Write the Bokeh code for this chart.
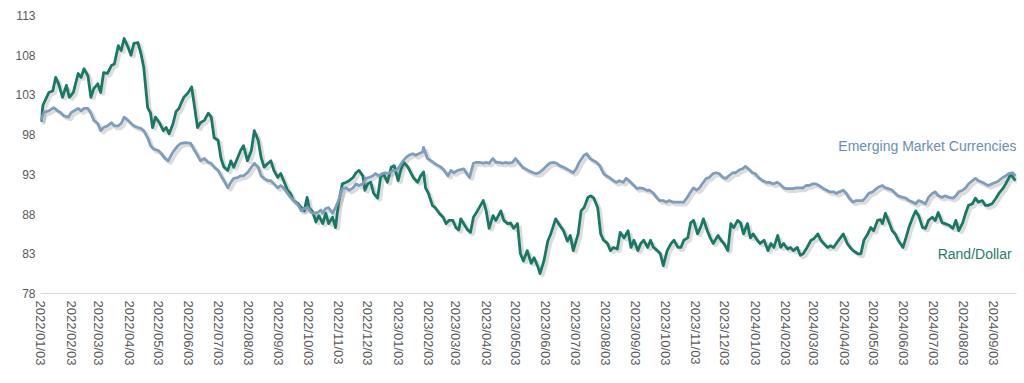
import pandas as pd
from bokeh.plotting import figure
from bokeh.models import FixedTicker, Range1d, Label
from bokeh.embed import file_html
from bokeh.resources import INLINE

start_date = "2022-01-03"

tick_labels = [
    "2022/01/03", "2022/02/03", "2022/03/03", "2022/04/03", "2022/05/03", "2022/06/03",
    "2022/07/03", "2022/08/03", "2022/09/03", "2022/10/03", "2022/11/03", "2022/12/03",
    "2023/01/03", "2023/02/03", "2023/03/03", "2023/04/03", "2023/05/03", "2023/06/03",
    "2023/07/03", "2023/08/03", "2023/09/03", "2023/10/03", "2023/11/03", "2023/12/03",
    "2024/01/03", "2024/02/03", "2024/03/03", "2024/04/03", "2024/05/03", "2024/06/03",
    "2024/07/03", "2024/08/03", "2024/09/03",
]
y_ticks = [78, 83, 88, 93, 98, 103, 108, 113]

# Rand/Dollar: days since 2022-01-03 and index value
rand_day = [
    0, 2, 8, 12, 15, 18, 22, 26, 29, 33,
    38, 41, 44, 48, 51, 54, 58, 61, 64, 68,
    72, 75, 79, 82, 85, 89, 92, 95, 99, 102,
    105, 109, 112, 114, 117, 121, 125, 128, 131, 135,
    138, 141, 143, 146, 150, 154, 156, 160, 163, 167,
    171, 174, 177, 181, 184, 187, 191, 194, 197, 201,
    204, 207, 211, 215, 218, 222, 225, 228, 232, 235,
    238, 242, 245, 248, 252, 255, 258, 263, 266, 269,
    272, 274, 278, 281, 284, 288, 291, 294, 298, 301,
    304, 308, 312, 315, 319, 322, 325, 329, 331, 334,
    337, 340, 344, 347, 350, 354, 358, 361, 365, 368,
    371, 375, 378, 381, 385, 388, 391, 393, 396, 400,
    403, 407, 411, 414, 417, 421, 424, 427, 429, 436,
    439, 442, 446, 452, 455, 458, 462, 465, 470, 473,
    477, 480, 483, 487, 490, 493, 497, 501, 504, 508,
    510, 514, 518, 521, 526, 529, 534, 538, 541, 544,
    549, 552, 555, 559, 562, 565, 569, 572, 575, 579,
    582, 585, 589, 592, 596, 600, 603, 606, 610, 613,
    616, 620, 623, 626, 630, 633, 636, 640, 644, 647,
    651, 654, 657, 661, 664, 667, 671, 674, 677, 681,
    684, 687, 692, 695, 698, 702, 705, 708, 712, 715,
    718, 722, 725, 728, 732, 735, 739, 743, 746, 749,
    753, 756, 759, 763, 766, 769, 773, 776, 779, 783,
    787, 790, 794, 797, 800, 804, 807, 810, 814, 817,
    820, 824, 827, 830, 835, 838, 841, 845, 848, 851,
    855, 858, 860, 863, 866, 870, 873, 876, 881, 884,
    887, 891, 894, 897, 901, 904, 907, 911, 914, 917,
    921, 924, 928, 932, 935, 938, 942, 945, 948, 952,
    955, 958, 962, 965, 968, 972, 976, 979, 983, 986,
    989, 991, 994, 996,
]
rand_val = [
    99.6, 101.7, 103.3, 103.5, 105.2, 104.4, 102.7, 104.2, 102.7, 103.3,
    105.7, 105.2, 106.3, 105.4, 102.7, 103.8, 104.4, 103.3, 105.8, 105.7,
    106.7, 106.9, 109.2, 108.6, 110.1, 109.0, 108.0, 109.5, 109.6, 108.3,
    106.5, 101.4, 100.7, 98.9, 100.2, 99.5, 98.5, 98.9, 98.1, 99.4,
    100.9, 101.3, 101.9, 102.7, 103.2, 104.0, 102.3, 98.9, 99.5, 99.8,
    100.7, 100.2, 97.6, 97.3, 95.0, 93.9, 93.5, 94.7, 93.9, 95.1,
    96.0, 96.6, 94.7, 96.0, 98.5, 97.3, 95.1, 93.9, 94.4, 94.7,
    93.5, 92.6, 93.1, 92.2, 91.0, 90.6, 89.7, 89.3, 88.8, 88.4,
    90.1, 88.8, 88.2, 87.0, 87.8, 86.8, 88.1, 86.8, 87.6, 86.3,
    89.3, 91.8, 92.0, 92.2, 92.6, 93.2, 93.5, 92.8, 91.0, 91.8,
    92.0, 90.6, 90.0, 92.6, 93.1, 92.0, 93.9, 94.1, 92.2, 93.7,
    94.5, 93.9, 93.2, 92.5, 92.0, 92.8, 93.3, 91.3, 90.6, 89.1,
    88.8, 88.1, 87.6, 86.8, 87.2, 87.2, 86.3, 86.0, 87.4, 86.0,
    85.7, 87.6, 88.4, 89.7, 88.4, 86.2, 87.8, 87.2, 88.4, 87.2,
    86.8, 86.9, 86.2, 86.8, 83.0, 82.1, 83.4, 81.8, 82.5, 81.3,
    80.5, 82.1, 84.6, 85.5, 87.4, 86.8, 85.9, 84.6, 85.3, 83.4,
    85.5, 88.4, 88.8, 90.1, 90.3, 90.0, 88.8, 85.5, 84.7, 84.3,
    83.4, 83.8, 83.6, 85.7, 85.0, 85.9, 83.8, 84.7, 83.4, 84.3,
    84.7, 83.8, 84.7, 83.8, 83.4, 83.0, 81.5, 83.4, 84.3, 84.7,
    83.8, 83.8, 84.7, 85.0, 86.9, 87.2, 85.5, 86.3, 87.4, 85.9,
    85.0, 84.3, 85.3, 84.7, 84.3, 83.4, 86.8, 86.3, 87.2, 86.9,
    85.5, 86.8, 85.0, 85.5, 84.7, 84.3, 84.7, 83.4, 84.3, 83.8,
    85.3, 83.8, 84.3, 83.6, 83.8, 83.4, 83.8, 82.8, 83.0, 83.8,
    84.7, 84.9, 85.5, 84.7, 84.3, 83.8, 84.0, 83.8, 84.5, 85.0,
    85.5, 84.3, 83.8, 83.4, 83.0, 83.0, 84.7, 85.5, 86.3, 85.9,
    87.2, 87.3, 86.8, 88.1, 87.2, 85.9, 85.5, 84.7, 83.8, 85.0,
    86.3, 87.6, 88.4, 87.8, 86.3, 86.2, 87.2, 87.6, 87.2, 88.2,
    86.9, 86.8, 86.6, 86.2, 87.2, 85.9, 86.9, 88.1, 89.1, 89.3,
    90.0, 89.5, 89.7, 89.1, 89.1, 89.3, 90.0, 90.6, 91.2, 91.8,
    92.5, 93.1, 92.5, 92.2,
]

# Emerging Market Currencies: days since 2022-01-03 and index value
em_day = [
    0, 3, 8, 13, 17, 20, 23, 28, 31, 34,
    38, 41, 44, 48, 51, 54, 58, 61, 64, 68,
    72, 75, 79, 82, 85, 89, 92, 95, 99, 102,
    105, 109, 112, 115, 120, 123, 126, 130, 133, 136,
    140, 143, 148, 153, 156, 160, 163, 167, 171, 174,
    177, 181, 184, 187, 191, 194, 197, 201, 204, 207,
    211, 215, 218, 222, 225, 228, 232, 235, 238, 242,
    245, 248, 252, 255, 258, 263, 266, 269, 273, 276,
    279, 283, 286, 288, 291, 294, 298, 301, 304, 308,
    312, 315, 319, 322, 325, 329, 332, 335, 339, 342,
    345, 349, 352, 355, 360, 363, 366, 370, 373, 376,
    380, 383, 386, 390, 391, 395, 399, 402, 406, 409,
    412, 416, 419, 422, 426, 432, 435, 438, 442, 445,
    448, 452, 455, 458, 462, 465, 468, 472, 475, 478,
    482, 485, 488, 492, 495, 498, 503, 506, 509, 514,
    517, 520, 524, 527, 530, 534, 537, 540, 544, 547,
    550, 555, 558, 561, 565, 568, 571, 575, 578, 581,
    585, 588, 591, 595, 598, 601, 606, 609, 612, 616,
    619, 622, 626, 629, 632, 636, 639, 642, 646, 650,
    653, 657, 660, 663, 667, 670, 673, 677, 680, 683,
    687, 690, 693, 697, 700, 703, 707, 710, 713, 717,
    720, 723, 727, 730, 733, 738, 741, 744, 749, 752,
    755, 759, 762, 765, 769, 772, 775, 779, 782, 785,
    789, 792, 795, 800, 803, 806, 810, 813, 816, 820,
    823, 826, 830, 833, 836, 840, 843, 846, 850, 853,
    856, 860, 863, 866, 870, 873, 876, 881, 884, 887,
    891, 894, 897, 901, 904, 907, 911, 914, 917, 921,
    924, 928, 932, 935, 938, 942, 945, 948, 952, 955,
    958, 962, 965, 968, 972, 976, 979, 983, 986, 989,
    993, 996,
]
em_val = [
    99.8, 100.8, 101.0, 101.4, 101.0, 100.8, 100.4, 100.2, 100.8, 101.0,
    101.3, 101.0, 101.3, 101.3, 100.7, 99.8, 99.4, 98.5, 98.9, 99.1,
    99.5, 99.1, 99.1, 99.4, 100.2, 99.8, 99.4, 99.1, 98.9, 98.8,
    98.5, 97.6, 96.6, 96.2, 96.0, 95.6, 95.1, 94.7, 95.4, 96.0,
    96.6, 96.9, 97.0, 96.9, 96.2, 95.4, 94.7, 95.0, 94.5, 94.4,
    93.9, 93.5, 92.8, 92.2, 91.3, 92.0, 92.5, 92.6, 92.8, 92.8,
    93.2, 93.9, 94.4, 93.9, 92.8, 92.5, 92.2, 92.2, 91.8, 91.3,
    91.6, 91.3, 90.6, 90.1, 89.7, 89.1, 88.4, 88.7, 88.8, 88.2,
    88.1, 88.2, 88.5, 88.1, 88.7, 88.8, 88.1, 88.8, 89.7, 91.2,
    91.3, 91.0, 91.3, 91.8, 91.6, 91.8, 92.5, 92.6, 92.8, 93.1,
    92.8, 93.1, 93.2, 93.1, 93.5, 93.5, 93.9, 94.7, 95.1, 95.4,
    95.6, 95.4, 95.6, 95.8, 96.4, 95.0, 94.7, 94.4, 94.1, 93.9,
    93.5, 92.8, 93.5, 93.2, 93.5, 93.7, 93.1, 92.6, 94.4, 94.5,
    94.5, 94.4, 94.5, 94.4, 95.0, 94.5, 94.5, 94.4, 94.5, 94.4,
    94.5, 95.0, 94.5, 93.9, 93.7, 93.5, 93.2, 93.1, 93.2, 93.7,
    94.1, 94.4, 94.5, 94.4, 94.1, 93.9, 93.7, 93.5, 93.2, 93.7,
    94.5, 95.4, 95.6, 95.0, 94.7, 94.5, 94.1, 93.1, 92.8, 92.6,
    92.2, 92.0, 92.2, 92.0, 92.5, 92.2, 91.6, 91.2, 91.3, 91.2,
    91.0, 91.0, 90.6, 90.1, 89.7, 89.7, 89.5, 89.7, 89.5, 89.5,
    89.5, 89.5, 90.0, 90.6, 91.3, 91.0, 91.3, 92.0, 92.5, 92.6,
    93.1, 93.2, 93.1, 92.6, 92.5, 92.8, 93.2, 93.2, 93.5, 93.7,
    94.0, 93.7, 93.2, 93.1, 92.6, 92.2, 92.0, 92.0, 91.8, 92.0,
    91.8, 91.3, 91.2, 91.2, 91.2, 91.3, 91.3, 91.3, 91.6, 91.6,
    91.8, 91.8, 91.6, 91.2, 91.0, 90.8, 90.8, 90.6, 90.8, 91.0,
    90.6, 90.0, 89.5, 89.7, 89.7, 89.7, 90.1, 90.6, 90.8, 91.1,
    91.4, 91.6, 91.3, 91.2, 91.0, 90.6, 90.3, 90.1, 90.0, 89.7,
    89.5, 89.3, 89.7, 89.5, 89.3, 90.1, 90.6, 90.8, 90.3, 90.1,
    90.3, 90.1, 90.0, 90.3, 90.8, 91.0, 91.3, 91.8, 92.2, 92.5,
    92.2, 92.0, 91.8, 91.6, 91.8, 92.0, 92.2, 92.6, 92.8, 93.1,
    93.2, 92.8,
]

assert len(rand_day) == len(rand_val), (len(rand_day), len(rand_val))
assert len(em_day) == len(em_val), (len(em_day), len(em_val))

GREEN = "#177864"
BLUE = "#7e9cbb"
LABEL_GRAY = "#595959"
FONT = "Liberation Sans"

start = pd.Timestamp(start_date)
tick_days = [int((pd.Timestamp(t.replace("/", "-")) - start).days) for t in tick_labels]

p = figure(
    width=1024, height=383,
    x_range=Range1d(-0.5, 997), y_range=Range1d(78, 113),
    output_backend="svg", toolbar_location=None,
    min_border_left=40, min_border_right=8, min_border_top=15, min_border_bottom=90,
)
p.outline_line_color = None
p.xgrid.visible = False
p.ygrid.visible = False
p.background_fill_color = "white"
p.border_fill_color = "white"

# soft drop shadow beneath the lines
sx = 2.5
sy = 0.32
p.line([d + sx for d in rand_day], [v - sy for v in rand_val],
       line_color="#9a9a9a", line_alpha=0.35, line_width=3.5)
p.line([d + sx for d in em_day], [v - sy for v in em_val],
       line_color="#9a9a9a", line_alpha=0.35, line_width=3.5)

p.line(rand_day, rand_val, line_color=GREEN, line_width=2.8, line_join="round")
p.line(em_day, em_val, line_color=BLUE, line_width=2.8, line_join="round")

# axes
xa = p.xaxis[0]
xa.ticker = FixedTicker(ticks=tick_days)
xa.major_label_overrides = {d: t for d, t in zip(tick_days, tick_labels)}
xa.major_label_orientation = "vertical"
xa.major_label_text_font = FONT
xa.major_label_text_font_size = "13px"
xa.major_label_text_color = LABEL_GRAY
xa.major_tick_line_color = None
xa.minor_tick_line_color = None
xa.major_tick_out = 0
xa.major_label_standoff = 7
xa.axis_line_color = "#d9d9d9"
xa.axis_line_width = 1

ya = p.yaxis[0]
ya.ticker = FixedTicker(ticks=y_ticks)
ya.major_label_text_font = FONT
ya.major_label_text_font_size = "12px"
ya.major_label_text_color = LABEL_GRAY
ya.major_tick_line_color = None
ya.minor_tick_line_color = None
ya.major_tick_out = 0
ya.major_label_standoff = 5
ya.axis_line_color = None

p.add_layout(Label(x=997, y=96.6, text="Emerging Market Currencies",
                   text_align="right", text_baseline="middle",
                   text_font=FONT, text_font_size="14px", text_color="#6b8db2"))
p.add_layout(Label(x=992, y=83.0, text="Rand/Dollar",
                   text_align="right", text_baseline="middle",
                   text_font=FONT, text_font_size="14px", text_color="#2b7a68"))

open("out.html", "w").write(file_html(p, INLINE))
